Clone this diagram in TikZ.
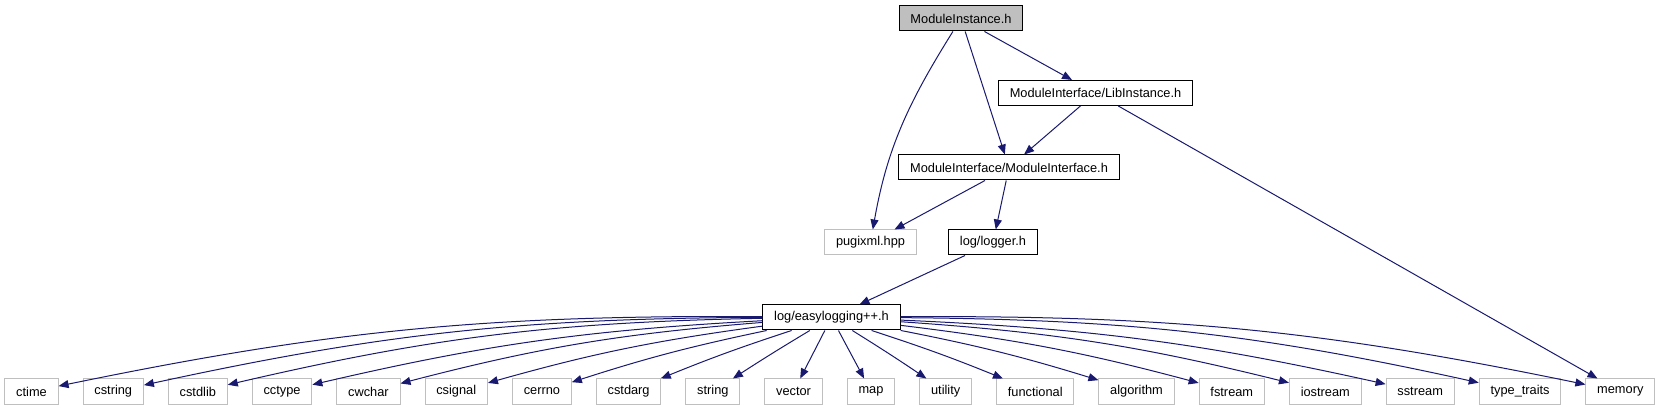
\documentclass[tikz,border=0pt]{standalone}
\usepackage{fontspec}
\setmainfont{Liberation Sans}
\usetikzlibrary{positioning, arrows.meta}

\definecolor{edgeblue}{HTML}{191970}
\definecolor{boxgray}{HTML}{BFBFBF}

\begin{document}
\begin{tikzpicture}[x=1pt, y=-1pt, node distance=24pt,
    file/.style={draw=black, line width=1pt, minimum height=25pt, inner xsep=11.3pt, inner ysep=0pt, font=\fontsize{12.8}{15}\selectfont},
    sysfile/.style={file, draw=boxgray},
    dep/.style={draw=edgeblue, line width=1pt, -{Triangle[length=10pt,width=8pt]}}]
  \useasboundingbox (0,0) rectangle (1657,411);

  \node[file, fill=boxgray] (ModInst) at (961,18.5) {ModuleInstance.h};
  \node[file] (LibInst) at (1095.5,93) {ModuleInterface/LibInstance.h};
  \node[file] (ModIface) at (1009,167.5) {ModuleInterface/ModuleInterface.h};
  \node[sysfile] (Pugi) at (870.5,242.5) {pugixml.hpp};
  \node[file] (Logger) at (993,242.5) {log/logger.h};
  \node[file] (Easylog) at (831.5,317.5) {log/easylogging++.h};

  % system headers
  \node[sysfile] (ctime) at (31.5,391.5) {ctime};
  \node[sysfile, right=of ctime] (cstring) {cstring};
  \node[sysfile, right=of cstring] (cstdlib) {cstdlib};
  \node[sysfile, right=of cstdlib] (cctype) {cctype};
  \node[sysfile, right=of cctype] (cwchar) {cwchar};
  \node[sysfile, right=of cwchar] (csignal) {csignal};
  \node[sysfile, right=of csignal] (cerrno) {cerrno};
  \node[sysfile, right=of cerrno] (cstdarg) {cstdarg};
  \node[sysfile, right=of cstdarg] (string) {string};
  \node[sysfile, right=of string] (vector) {vector};
  \node[sysfile, right=of vector] (map) {map};
  \node[sysfile, right=of map] (utility) {utility};
  \node[sysfile, right=of utility] (functional) {functional};
  \node[sysfile, right=of functional] (algorithm) {algorithm};
  \node[sysfile, right=of algorithm] (fstream) {fstream};
  \node[sysfile, right=of fstream] (iostream) {iostream};
  \node[sysfile, right=of iostream] (sstream) {sstream};
  \node[sysfile, right=of sstream] (typetraits) {type\_traits};
  \node[sysfile, right=of typetraits] (memory) {memory};

  \draw[dep] (ModInst) to[out=-122, in=80] (Pugi);
  \draw[dep] (ModInst) -- (ModIface);
  \draw[dep] (ModInst) -- (LibInst);
  \draw[dep] (LibInst) -- (ModIface);
  \draw[dep] (LibInst) -- (memory);
  \draw[dep] (ModIface) -- (Pugi);
  \draw[dep] (ModIface) -- (Logger);
  \draw[dep] (Logger) -- (Easylog);

  \foreach \hdr/\b in {ctime/-6, cstring/-6, cstdlib/-6, cctype/-5, cwchar/-5, csignal/-4,
      cerrno/-3, cstdarg/-2, string/-1, vector/0, map/0, utility/1, functional/2,
      algorithm/3, fstream/4, iostream/5, sstream/5, typetraits/6, memory/6}
    \draw[dep] (Easylog) to[bend left=\b] (\hdr);
\end{tikzpicture}
\end{document}
